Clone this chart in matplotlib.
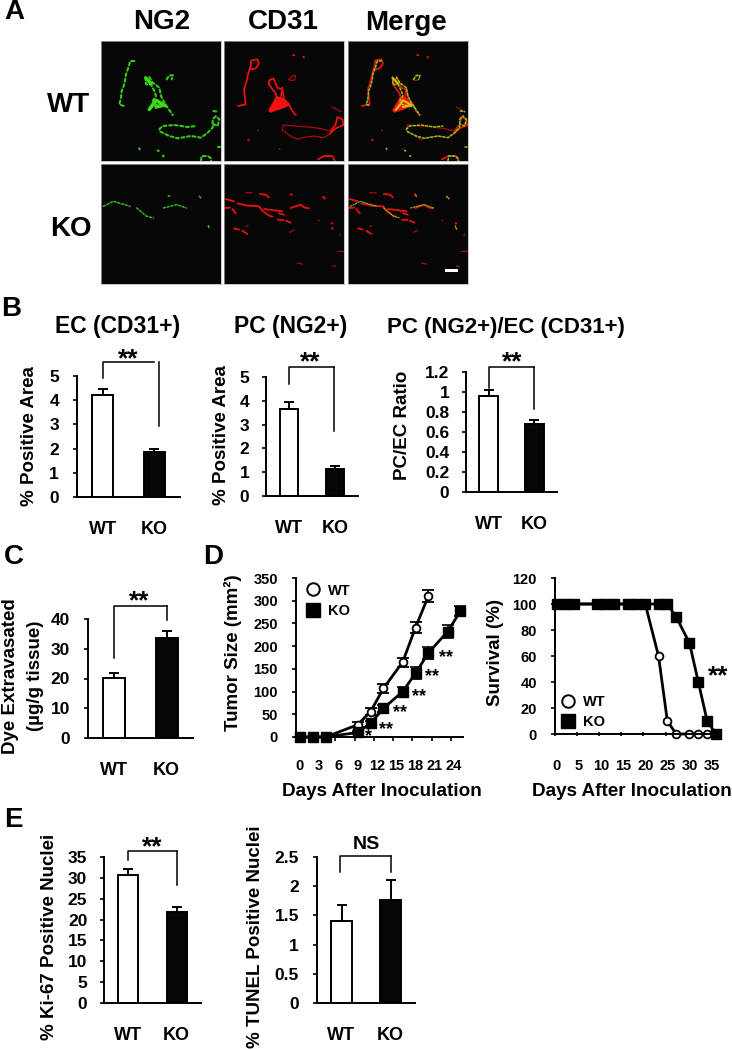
import matplotlib
matplotlib.use("Agg")
import matplotlib.pyplot as plt
from matplotlib.lines import Line2D

plt.rcParams['font.family'] = ['Liberation Sans', 'DejaVu Sans']
plt.rcParams['font.weight'] = 'bold'
plt.rcParams['axes.linewidth'] = 1.4

W, H = 732, 1050
fig = plt.figure(figsize=(W / 100, H / 100), dpi=100)

# datos de las barras: (WT, KO)
ec_vals = [4.2, 1.85]
ec_errs = [0.27, 0.15]
pc_vals = [3.67, 1.15]
pc_errs = [0.27, 0.13]
ratio_vals = [0.96, 0.68]
ratio_errs = [0.06, 0.04]
dye_vals = [20.3, 33.5]
dye_errs = [1.5, 2.3]
ki67_vals = [30.8, 21.8]
ki67_errs = [1.3, 1.2]
tunel_vals = [1.4, 1.77]
tunel_errs = [0.27, 0.34]
grupos = ['WT', 'KO']

# tumor
dias_tumor = [0, 2, 4, 9, 11, 13, 16, 18, 20, 23, 25]
wt_tumor = [0, 0, 0, 27, 56, 107, 165, 241, 310]
wt_tumor_err = [0, 0, 0, 5, 8, 10, 10, 12, 13]
ko_tumor = [0, 0, 0, 10, 30, 63, 100, 140, 185, 232, 277]
ko_tumor_err = [0, 0, 0, 3, 5, 7, 10, 13, 14, 14, 11]

# supervivencia
dias_surv = [0, 2, 4, 9, 11, 13, 16, 18, 20, 23, 25, 27, 30, 32, 34, 36]
wt_surv = [100, 100, 100, 100, 100, 100, 100, 100, 100, 60, 10, 0, 0, 0, 0]
ko_surv = [100, 100, 100, 100, 100, 100, 100, 100, 100, 100, 100, 90, 70, 40, 10, 0]

# trazos de las imagenes (escala 0-360 dentro de cada panel)
wt_verde = [
    [(100, 60), (88, 60), (82, 80), (75, 100), (72, 120), (68, 135), (62, 150), (60, 170), (55, 190), (68, 195)],
    [(133, 108), (135, 130), (150, 130), (160, 150), (165, 165), (155, 180), (160, 190), (145, 205), (138, 210)],
    [(145, 108), (155, 125), (175, 140), (180, 165), (190, 185), (200, 200), (215, 222)],
    [(160, 190), (198, 198)],
    [(197, 115), (205, 103), (216, 103), (212, 115)],
    [(175, 265), (185, 255), (220, 252), (260, 258), (285, 255)],
    [(178, 272), (205, 285), (230, 292), (270, 285), (300, 290), (320, 275), (335, 260), (335, 235), (345, 225),
     (355, 235), (350, 255), (338, 250)],
    [(337, 210), (350, 212)],
    [(300, 358), (302, 345), (320, 345), (330, 352), (330, 360)],
    [(115, 322), (116, 325)], [(185, 344), (188, 346)], [(170, 328), (173, 330)], [(350, 318), (356, 318)],
]
wt_nucleo_verde = [[(145, 205), (165, 178), (190, 192), (165, 198)], [(135, 112), (150, 128)]]
wt_rojo = [
    [(42, 195), (65, 190), (62, 165), (60, 145), (68, 120), (72, 100), (80, 75), (82, 58), (100, 55), (105, 68),
     (95, 82), (82, 85)],
    [(135, 130), (135, 118), (148, 112), (160, 140), (175, 145), (180, 175), (195, 190), (205, 210), (215, 222)],
    [(135, 130), (155, 158), (160, 175), (150, 200), (138, 210), (165, 200), (192, 190), (170, 175), (175, 140)],
    [(320, 270), (335, 250), (340, 228), (355, 235), (358, 252), (335, 262), (318, 278)],
    [(282, 355), (300, 345), (325, 345), (332, 358)],
    [(207, 42), (211, 43)], [(238, 47), (240, 50)], [(72, 296), (75, 297)],
]
wt_rojo_tenue = [
    [(175, 268), (178, 252), (210, 255), (255, 258), (285, 262), (320, 270)],
    [(318, 278), (300, 290), (270, 285), (235, 290), (220, 295), (200, 285), (175, 268)],
    [(325, 198), (350, 212)],
    [(195, 115), (208, 103), (215, 105), (212, 117), (198, 118), (195, 115)],
    [(100, 267), (103, 269)], [(165, 323), (168, 325)],
]
wt_nucleo_rojo = [[(140, 208), (160, 172), (178, 178), (190, 190), (165, 200), (140, 208)]]
ko_verde = [
    [(7, 127), (37, 112), (87, 127)],
    [(107, 132), (137, 157), (157, 162)],
    [(187, 132), (227, 122), (257, 132)],
    [(295, 97), (302, 104)], [(202, 95), (206, 97)], [(322, 185), (325, 195)],
]
ko_rojo = [
    [(5, 105), (30, 112)],
    [(40, 118), (70, 125), (105, 127), (115, 140), (135, 155), (145, 158)],
    [(0, 132), (18, 131)], [(25, 135), (35, 148)],
    [(108, 90), (125, 92), (135, 100)],
    [(120, 135), (175, 142)], [(165, 148), (180, 152)], [(162, 167), (178, 168)], [(185, 170), (200, 176)],
    [(200, 132), (230, 122), (240, 130), (255, 133)],
    [(30, 193), (45, 197)], [(55, 200), (70, 210)],
    [(200, 90), (204, 93)], [(297, 98), (303, 104)], [(323, 177), (325, 179)], [(324, 192), (326, 195)],
]
ko_rojo_tenue = [
    [(65, 86), (85, 87)], [(65, 187), (72, 186)], [(350, 210), (348, 215)], [(340, 262), (358, 262)],
    [(220, 297), (235, 300)], [(325, 305), (335, 308)], [(197, 205), (210, 198)], [(283, 168), (285, 171)],
]


def ejes_px(izq, arriba, der, abajo, **kw):
    return fig.add_axes([izq / W, 1 - abajo / H, (der - izq) / W, (abajo - arriba) / H], **kw)


def texto(x, y, s, size, **kw):
    kw.setdefault('ha', 'center')
    kw.setdefault('va', 'center')
    fig.text(x / W, 1 - y / H, s, fontsize=size, fontweight='bold', **kw)


def trazos(ax, lista, color, lw, cuentas=False):
    for t in lista:
        xs = [p[0] for p in t]
        ys = [p[1] for p in t]
        if cuentas:
            ax.plot(xs, ys, color=color, lw=lw, ls=(0, (1.4, 1.3)), dash_capstyle='round')
        else:
            ax.plot(xs, ys, color=color, lw=lw, solid_capstyle='round', solid_joinstyle='round')


def panel_imagen(izq, arriba, im, modo, fuerza=1.0):
    ax = ejes_px(izq, arriba, izq + 120, arriba + 120, facecolor='#060606')
    ax.set_xlim(0, 360)
    ax.set_ylim(360, 0)
    ax.set_xticks([])
    ax.set_yticks([])
    for s in ax.spines.values():
        s.set_color('#b0b0b0')
        s.set_linewidth(0.5)
    verde, nucleo_v, rojo, tenue, nucleo_r = im
    if modo in ('rojo', 'merge'):
        trazos(ax, tenue, '#a50c0a', 0.9)
        trazos(ax, rojo, '#e8100c', 1.3)
        trazos(ax, nucleo_r, '#f0120e', 3.0)
        for t in nucleo_r:
            ax.fill([p[0] for p in t], [p[1] for p in t], color='#f0120e', lw=0)
    if modo == 'verde':
        trazos(ax, verde, '#35c915', 1.5 * fuerza, cuentas=True)
        trazos(ax, nucleo_v, '#3ed81a', 2.6, cuentas=False)
    if modo == 'merge':
        trazos(ax, verde, '#86cf12', 1.1 * fuerza, cuentas=True)
        trazos(ax, nucleo_v, '#e8b810', 1.6, cuentas=False)
    return ax


def panel_barras(rect, vals, errs, ymax, ticks, etiquetas, tam, corchete, marca, tam_marca=19, pad_tick=10):
    ax = ejes_px(*rect)
    ax.bar([0, 1], vals, width=0.41, color=['white', '#050505'], edgecolor='black', linewidth=1.4,
           yerr=[[0, 0], errs], error_kw=dict(ecolor='black', elinewidth=1.4, capsize=3.5, capthick=1.4))
    ax.set_xlim(-0.5, 1.5)
    ax.set_ylim(0, ymax)
    ax.set_yticks(ticks)
    ax.set_yticklabels(etiquetas, fontsize=tam)
    ax.tick_params(axis='y', length=3, width=1.2, pad=pad_tick)
    ax.set_xticks([0, 1])
    ax.set_xticklabels(grupos, fontsize=tam + 0.5)
    ax.tick_params(axis='x', length=0, pad=17)
    ax.spines['top'].set_visible(False)
    ax.spines['right'].set_visible(False)
    x1, y1, xb, ytop, x2, y2 = corchete
    ax.plot([x1, x1, xb], [y1, ytop, ytop], color='black', lw=1.1, clip_on=False)
    ax.plot([x2, x2], [ytop, y2], color='black', lw=1.1, clip_on=False)
    xm, ym, s = marca
    ax.text(xm, ym, s, ha='center', va='center', fontsize=tam_marca if s != 'NS' else 14, fontweight='bold',
            clip_on=False)
    return ax


# Panel A
img_wt = (wt_verde, wt_nucleo_verde, wt_rojo, wt_rojo_tenue, wt_nucleo_rojo)
img_ko = (ko_verde, [], ko_rojo, ko_rojo_tenue, [])
panel_imagen(101, 41, img_wt, 'verde')
panel_imagen(224, 41, img_wt, 'rojo')
panel_imagen(348, 41, img_wt, 'merge')
panel_imagen(101, 164, img_ko, 'verde', 0.7)
panel_imagen(224, 164, img_ko, 'rojo')
ax_m = panel_imagen(348, 164, img_ko, 'merge', 0.7)
ax_m.fill_between([291, 331], 315, 325, color='white', lw=0)

texto(14, 12, 'A', 20)
texto(162, 22, 'NG2', 20)
texto(283, 22, 'CD31', 20)
texto(406, 23, 'Merge', 20)
texto(69, 105, 'WT', 20)
texto(71, 229, 'KO', 20)

# Panel B
texto(11, 309, 'B', 20)
texto(118, 327, 'EC (CD31+)', 16.5)
texto(290.5, 327, 'PC (NG2+)', 16.5)
texto(506, 327, 'PC (NG2+)/EC (CD31+)', 16)
panel_barras((77, 376, 180, 497), ec_vals, ec_errs, 5, [0, 1, 2, 3, 4, 5], ['0', '1', '2', '3', '4', '5'], 12.5,
             (0, 4.92, 1, 5.58, 1.1, 2.93), (0.49, 5.68, '**'))
panel_barras((266, 377, 358, 496), pc_vals, pc_errs, 5, [0, 1, 2, 3, 4, 5], ['0', '1', '2', '3', '4', '5'], 12.5,
             (0, 4.71, 0.97, 5.42, 0.97, 2.73), (0.46, 5.6, '**'), pad_tick=9)
panel_barras((466, 372, 557, 492), ratio_vals, ratio_errs, 1.2, [0, 0.2, 0.4, 0.6, 0.8, 1, 1.2],
             ['0', '0.2', '0.4', '0.6', '0.8', '1', '1.2'], 12.5,
             (0, 1.04, 1, 1.25, 1, 0.83), (0.52, 1.3, '**'), pad_tick=9)
texto(30, 436, '% Positive Area', 13.5, rotation=90)
texto(221, 435, '% Positive Area', 13.5, rotation=90)
texto(402, 425, 'PC/EC Ratio', 13.5, rotation=90)

# Panel C
texto(14, 557, 'C', 20)
panel_barras((88, 619, 193, 738), dye_vals, dye_errs, 40, [0, 10, 20, 30, 40], ['0', '10', '20', '30', '40'], 12.5,
             (0, 26.9, 1, 44.4, 1, 39.7), (0.47, 46, '**'))
texto(11, 676, 'Dye Extravasated', 13.5, rotation=90)
texto(35, 676, '(µg/g tissue)', 13.5, rotation=90)

# Panel D, tamano del tumor
texto(213, 557, 'D', 20)
ax_t = ejes_px(296, 578, 463, 737)
ax_t.errorbar(dias_tumor[:len(wt_tumor)], wt_tumor, yerr=wt_tumor_err, color='black', lw=2, marker='o', ms=5.6,
              mfc='white', mec='black', mew=1.3, capsize=4, elinewidth=1.2, capthick=1.2, clip_on=False)
ax_t.errorbar(dias_tumor, ko_tumor, yerr=ko_tumor_err, color='black', lw=2, marker='s', ms=6.8,
              mfc='black', mec='black', capsize=4, elinewidth=1.2, capthick=1.2, clip_on=False)
ax_t.set_xlim(-0.62, 25.4)
ax_t.set_ylim(0, 350)
ax_t.set_yticks(range(0, 351, 50))
ax_t.tick_params(axis='y', labelsize=10.5, length=3, width=1.2, pad=10)
ax_t.set_xticks(range(0, 25, 3))
ax_t.set_xticks([i - 0.5 for i in range(3, 25, 3)], minor=True)
ax_t.tick_params(axis='x', which='major', labelsize=10.5, length=0, pad=16)
ax_t.tick_params(axis='x', which='minor', length=3, width=1.2)
ax_t.spines['top'].set_visible(False)
ax_t.spines['right'].set_visible(False)
for x, y, s in [(10.7, 1, '*'), (13.4, 17, '**'), (15.6, 54, '**'), (18.5, 90, '**'), (20.6, 133, '**'),
                (22.7, 175, '**')]:
    ax_t.text(x, y, s, ha='center', va='center', fontsize=13, fontweight='bold')
h_t = [Line2D([], [], color='none', marker='o', ms=9, mfc='white', mec='black', mew=1.4),
       Line2D([], [], color='none', marker='s', ms=9.5, mfc='black', mec='black')]
ax_t.legend(h_t, grupos, loc='upper left', bbox_to_anchor=(0.06, 0.965), frameon=False, fontsize=10.5,
            handlelength=1, handletextpad=0.5, borderpad=0, labelspacing=0.42, borderaxespad=0)
texto(233, 653, 'Tumor Size (mm²)', 13.5, rotation=90)
texto(382, 792, 'Days After Inoculation', 13.6)

# Panel D, supervivencia
ax_s = ejes_px(555, 578, 720, 734)
ax_s.plot(dias_surv[:len(wt_surv)], wt_surv, color='black', lw=2, marker='o', ms=5.6, mfc='white', mec='black',
          mew=1.3, clip_on=False)
ax_s.plot(dias_surv, ko_surv, color='black', lw=2, marker='s', ms=6.8, mfc='black', mec='black', clip_on=False)
ax_s.set_xlim(-0.4, 36.9)
ax_s.set_ylim(0, 120)
ax_s.set_yticks(range(0, 121, 20))
ax_s.tick_params(axis='y', labelsize=10.5, length=3, width=1.2, pad=10)
ax_s.set_xticks(range(0, 36, 5))
ax_s.set_xticks([i - 0.4 for i in range(0, 36, 5)], minor=True)
ax_s.tick_params(axis='x', which='major', labelsize=10.5, length=0, pad=18)
ax_s.tick_params(axis='x', which='minor', length=3, width=1.2, direction='inout')
ax_s.spines['top'].set_visible(False)
ax_s.spines['right'].set_visible(False)
ax_s.text(36.5, 44, '**', ha='center', va='center', fontsize=19, fontweight='bold', clip_on=False)
h_s = [Line2D([], [], color='none', marker='o', ms=9, mfc='white', mec='black', mew=1.4),
       Line2D([], [], color='none', marker='s', ms=9.5, mfc='black', mec='black')]
ax_s.legend(h_s, grupos, loc='lower left', bbox_to_anchor=(0.035, 0.03), frameon=False, fontsize=10.5,
            handlelength=1, handletextpad=0.5, borderpad=0, labelspacing=0.42, borderaxespad=0)
texto(496, 652, 'Survival (%)', 13.5, rotation=90)
texto(632, 792, 'Days After Inoculation', 13.6)

# Panel E
texto(13, 820, 'E', 20)
panel_barras((104, 857, 201, 1003), ki67_vals, ki67_errs, 35, list(range(0, 36, 5)),
             ['0', '5', '10', '15', '20', '25', '30', '35'], 12.5,
             (0, 34.3, 1, 36.4, 1, 28.3), (0.5, 37.4, '**'), pad_tick=9)
panel_barras((317, 857, 415, 1003), tunel_vals, tunel_errs, 2.5, [0, 0.5, 1, 1.5, 2, 2.5],
             ['0', '0.5', '1', '1.5', '2', '2.5'], 12.5,
             (-0.04, 2.24, 1, 2.52, 1, 2.24), (0.5, 2.72, 'NS'))
texto(49, 937, '% Ki-67 Positive Nuclei', 13.5, rotation=90)
texto(256, 937, '% TUNEL Positive Nuclei', 13.5, rotation=90)

fig.savefig('out.png', dpi=100)
